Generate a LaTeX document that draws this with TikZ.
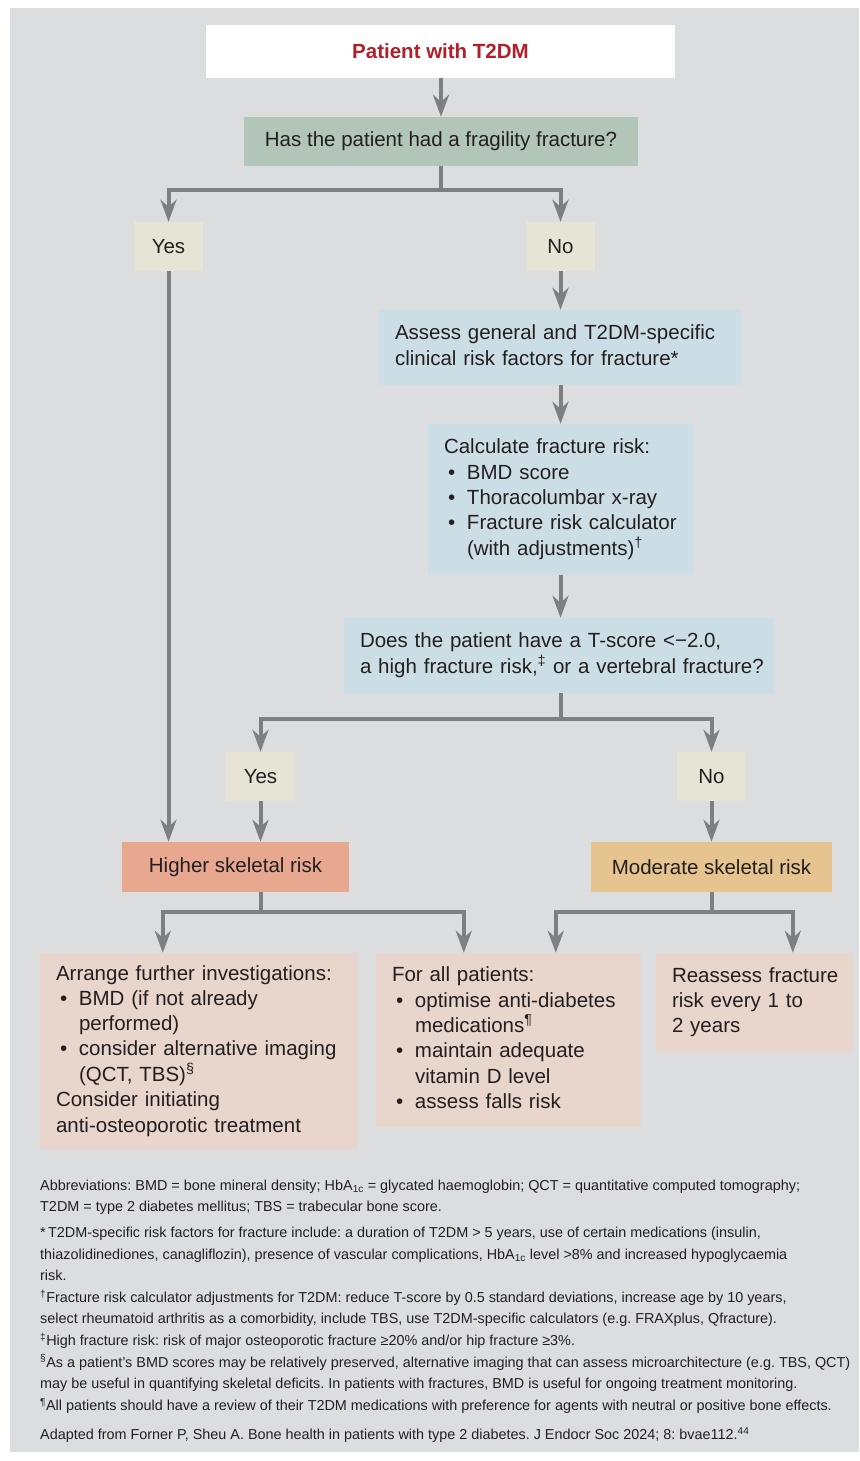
\documentclass[tikz,border=0pt]{standalone}
\usepackage{fontspec}
\setmainfont{Liberation Sans}
\usetikzlibrary{arrows.meta,calc}
\frenchspacing
\definecolor{bggray}{HTML}{DCDDDF}
\definecolor{txt}{HTML}{231F20}
\definecolor{redtxt}{HTML}{B21F2B}
\definecolor{qgreen}{HTML}{B1C5B8}
\definecolor{cream}{HTML}{E6E5D5}
\definecolor{lblue}{HTML}{CCDEE5}
\definecolor{hred}{HTML}{E8A890}
\definecolor{morange}{HTML}{E6C48F}
\definecolor{pinkbox}{HTML}{E8D5CB}
\definecolor{arrowgray}{HTML}{7E7F83}
\newcommand{\lns}[1]{\begin{tabular}{@{}l@{}}#1\end{tabular}}
\newcommand{\bul}{\makebox[23pt][l]{\hspace{4pt}\textbullet}}
\newcommand{\ind}{\hspace*{23pt}}
\tikzset{
  box/.style={inner sep=0pt, text=txt, font=\fontsize{20.5}{25.3}\selectfont},
  cbox/.style={box, align=center},
  lbox/.style={box, inner xsep=16pt, align=left},
  conn/.style={draw=arrowgray, line width=4pt},
  arr/.style={conn, -{Stealth[length=22pt,width=16pt,inset=7pt]}},
  fn/.style={inner sep=0pt, text=txt, font=\fontsize{14.4}{21.6}\selectfont, align=left}
}
\begin{document}
\begin{tikzpicture}[x=1pt,y=-1pt]
\useasboundingbox (0,0) rectangle (859,1461);
\fill[white] (0,0) rectangle (859,1461);
\fill[bggray] (10,8) rectangle (859,1452);

\node[cbox, fill=white, minimum width=469pt, minimum height=53pt, text=redtxt, font=\fontsize{20.5}{25}\selectfont\bfseries] (start) at (440.5,51.5) {Patient with T2DM};
\node[cbox, fill=qgreen, minimum width=394pt, minimum height=49pt] (q1) at (441,141.5) {Has the patient had a fragility fracture?};
\node[cbox, fill=cream, minimum width=69pt, minimum height=49pt] (yes1) at (168.5,246.5) {Yes};
\node[cbox, fill=cream, minimum width=69pt, minimum height=49pt] (no1) at (560.5,246.5) {No};
\node[lbox, fill=lblue, minimum width=362pt, minimum height=75pt, text width=330pt] (assess) at (560,347.5)
  {\lns{Assess general and T2DM-specific\\clinical risk factors for fracture*}};
\node[lbox, fill=lblue, minimum width=265pt, minimum height=151pt, text width=233pt] (calc) at (560.5,499.5)
  {\lns{Calculate fracture risk:\\ \bul BMD score\\ \bul Thoracolumbar x-ray\\ \bul Fracture risk calculator\\ \ind(with adjustments)\textsuperscript{†}}};
\node[lbox, fill=lblue, minimum width=430pt, minimum height=75pt, text width=398pt] (q2) at (559,655.5)
  {\lns{Does the patient have a T-score <−2.0,\\a high fracture risk,\textsuperscript{‡} or a vertebral fracture?}};
\node[cbox, fill=cream, minimum width=69pt, minimum height=49pt] (yes2) at (260.5,776.5) {Yes};
\node[cbox, fill=cream, minimum width=69pt, minimum height=49pt] (no2) at (711.5,776.5) {No};
\node[cbox, fill=hred, minimum width=227pt, minimum height=50pt] (higher) at (235.5,867) {Higher skeletal risk};
\node[cbox, fill=morange, minimum width=241pt, minimum height=50pt] (moderate) at (711.5,867) {Moderate skeletal risk};
\node[lbox, fill=pinkbox, minimum width=318pt, minimum height=196pt, text width=286pt] (b1) at (199,1051)
  {\lns{Arrange further investigations:\\ \bul BMD (if not already\\ \ind performed)\\ \bul consider alternative imaging\\ \ind(QCT, TBS)\textsuperscript{§}\\Consider initiating\\anti-osteoporotic treatment}};
\node[lbox, fill=pinkbox, minimum width=265pt, minimum height=174pt, text width=233pt] (b2) at (508.5,1040)
  {\lns{For all patients:\\ \bul optimise anti-diabetes\\ \ind medications\textsuperscript{¶}\\ \bul maintain adequate\\ \ind vitamin D level\\ \bul assess falls risk}};
\node[lbox, fill=pinkbox, minimum width=197pt, minimum height=99pt, text width=165pt] (b3) at (754.5,1002.5)
  {\lns{Reassess fracture\\risk every 1 to\\2 years}};

\coordinate (j1) at ($(q1.south)+(0,24)$);
\coordinate (j2) at ($(q2.south)+(0,26)$);
\coordinate (j3) at ($(higher.south -| yes2.south)+(0,20)$);
\coordinate (j4) at ($(moderate.south -| no2.south)+(0,20)$);

\draw[arr] (start.south -| q1.north) -- (q1.north);
\draw[conn] (q1.south) -- (j1);
\draw[arr] (j1) -| (yes1.north);
\draw[arr] (j1) -| (no1.north);
\draw[arr] (yes1.south) -- (yes1.south |- higher.north);
\draw[arr] (no1.south) -- (no1.south |- assess.north);
\draw[arr] (assess.south -| no1.south) -- (no1.south |- calc.north);
\draw[arr] (calc.south -| no1.south) -- (no1.south |- q2.north);
\draw[conn] (q2.south -| no1.south) -- (j2 -| no1.south) -- (j2);
\draw[arr] (j2 -| no1.south) -| (yes2.north);
\draw[arr] (j2 -| no1.south) -| (no2.north);
\draw[arr] (yes2.south) -- (yes2.south |- higher.north);
\draw[arr] (no2.south) -- (no2.south |- moderate.north);
\draw[conn] (higher.south -| yes2.south) -- (j3);
\draw[arr] (j3) -| ($(b1.north west)+(123,0)$);
\draw[arr] (j3) -| ($(b2.north west)+(88,0)$);
\draw[conn] (moderate.south -| no2.south) -- (j4);
\draw[arr] (j4) -| ($(b2.north west)+(180,0)$);
\draw[arr] (j4) -| ($(b3.north west)+(137,0)$);

\node[fn, anchor=north west] (notes) at (40,1175) {\lns{%
Abbreviations: BMD = bone mineral density; HbA\textsubscript{1c} = glycated haemoglobin; QCT = quantitative computed tomography;\\
T2DM = type 2 diabetes mellitus; TBS = trabecular bone score.\\[4pt]
*\,T2DM-specific risk factors for fracture include: a duration of T2DM > 5 years, use of certain medications (insulin,\\
thiazolidinediones, canagliflozin), presence of vascular complications, HbA\textsubscript{1c} level >8\% and increased hypoglycaemia\\
risk.\\
\textsuperscript{†}Fracture risk calculator adjustments for T2DM: reduce T-score by 0.5 standard deviations, increase age by 10 years,\\
select rheumatoid arthritis as a comorbidity, include TBS, use T2DM-specific calculators (e.g. FRAXplus, Qfracture).\\
\textsuperscript{‡}High fracture risk: risk of major osteoporotic fracture ≥20\% and/or hip fracture ≥3\%.\\
\textsuperscript{§}As a patient’s BMD scores may be relatively preserved, alternative imaging that can assess microarchitecture (e.g. TBS, QCT)\\
may be useful in quantifying skeletal deficits. In patients with fractures, BMD is useful for ongoing treatment monitoring.\\
\textsuperscript{¶}All patients should have a review of their T2DM medications with preference for agents with neutral or positive bone effects.\\[8pt]
Adapted from Forner P, Sheu A. Bone health in patients with type 2 diabetes. J Endocr Soc 2024; 8: bvae112.\textsuperscript{44}}};
\end{tikzpicture}
\end{document}
